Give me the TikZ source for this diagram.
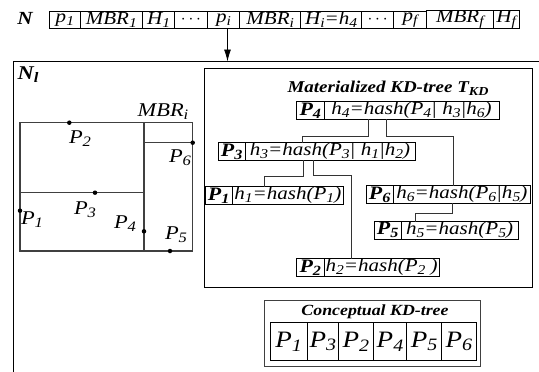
\documentclass[tikz,border=0pt]{standalone}
\usepackage{fontspec}
\setmainfont{Liberation Serif}[FakeStretch=1.15]
\usetikzlibrary{arrows.meta}
\newcommand{\sbx}[1]{\raisebox{-0.16em}{\scalebox{0.74}{#1}}}
\begin{document}
\begin{tikzpicture}[x=1pt,y=-1pt,
  every node/.style={inner sep=0pt, outer sep=0pt},
  rowcell/.style={draw, line width=0.8pt, minimum height=16.5pt, anchor=west,
    font=\fontsize{18.3}{18.3}\selectfont\itshape},
  tcell/.style={draw, line width=0.8pt, minimum height=17.6pt, anchor=west,
    font=\fontsize{18.3}{18.3}\selectfont\itshape},
  tkey/.style={tcell, font=\fontsize{19}{19}\selectfont\bfseries\itshape},
  ccell/.style={draw, line width=0.8pt, minimum height=38.4pt, anchor=west,
    font=\fontsize{23.5}{23.5}\selectfont\itshape},
  lbl/.style={font=\fontsize{19.5}{19.5}\selectfont\itshape},
  mbr/.style={line width=1.1pt, draw=black!75},
  dot/.style={circle, fill=black, minimum size=4.5pt},
  conn/.style={line width=0.8pt, draw=black!80},
]
\useasboundingbox (0,0) rectangle (539,372);

% top row
\node[font=\fontsize{18.5}{18.5}\selectfont\bfseries\itshape] (N) at (25,18.5) {N};
\node[rowcell, minimum width=30.2pt] (r1) at (49.8,19.75) {p\sbx{1}};
\node[rowcell, minimum width=62.7pt] (r2) at (r1.east) {MBR\sbx{1}};
\node[rowcell, minimum width=31.9pt] (r3) at (r2.east) {H\sbx{1}};
\node[rowcell, minimum width=32.7pt] (r4) at (r3.east) {$\cdots$};
\node[rowcell, minimum width=32.3pt] (r5) at (r4.east) {p\sbx{i}};
\node[rowcell, minimum width=61.2pt] (r6) at (r5.east) {MBR\sbx{i}};
\node[rowcell, minimum width=60.8pt] (r7) at (r6.east) {H\sbx{i}=h\sbx{4}};
\node[rowcell, minimum width=32pt] (r8) at (r7.east) {$\cdots$};
\node[rowcell, minimum width=32.7pt] (r9) at (r8.east) {p\sbx{f}};
\node[rowcell, minimum width=67pt] (r10) at (r9.east) {MBR\sbx{f}};
\node[rowcell, minimum width=25.7pt] (r11) at (r10.east) {H\sbx{f}};

% N_l region
\coordinate (nlbl) at (13.3,372);
\coordinate (nltl) at (13.3,61.5);
\coordinate (nltr) at (539,61.5);
\coordinate (nlarrow) at (227.5,61.5);
\draw[line width=0.9pt] (nlbl) -- (nltl) -- (nltr);
\draw[line width=0.8pt, -{Latex[length=12pt,width=7pt]}] (r5.south -| nlarrow) -- (nlarrow);
\node[font=\fontsize{19.5}{19.5}\selectfont\bfseries\itshape] (Nl) at (28,75) {N\sbx{l}};

% MBR drawing
\draw[mbr] (20,122.7) rectangle (192.7,251);
\draw[mbr] (144,122.7) -- (144,251);
\draw[mbr] (20,192.7) -- (144,192.7);
\draw[mbr] (144,142.7) -- (192.7,142.7);
\node[dot] (d2) at (69.3,122.7) {};
\node[dot] (d3) at (95,192.7) {};
\node[dot] (d1) at (20,210.7) {};
\node[dot] (d6) at (192.7,142.7) {};
\node[dot] (d4) at (144,231.3) {};
\node[dot] (d5) at (170,251) {};
\node[lbl] (l2) at (80,138.3) {P\sbx{2}};
\node[lbl] (l6) at (180,158) {P\sbx{6}};
\node[lbl] (l3) at (85,210) {P\sbx{3}};
\node[lbl] (l1) at (32,220) {P\sbx{1}};
\node[lbl] (l4) at (125,223.3) {P\sbx{4}};
\node[lbl] (l5) at (176,235) {P\sbx{5}};
\node[lbl] (lm) at (163,111.7) {MBR\sbx{i}};

% Materialized KD-tree
\node[draw, line width=0.9pt, minimum width=328.5pt, minimum height=219pt] (mat) at (368.25,177.5) {};
\node[font=\fontsize{16.5}{16.5}\selectfont\bfseries\itshape] (mtitle) at (388,88) {Materialized KD-tree T\sbx{KD}};

\node[tkey, minimum width=27.3pt] (p4a) at (296.7,110.5) {P\sbx{4}};
\node[tcell, minimum width=175pt] (p4b) at (p4a.east) {h\sbx{4}=hash(P\sbx{4}| h\sbx{3}|h\sbx{6})};
\node[tkey, minimum width=26.7pt] (p3a) at (218.3,151.5) {P\sbx{3}};
\node[tcell, minimum width=170pt] (p3b) at (p3a.east) {h\sbx{3}=hash(P\sbx{3}| h\sbx{1}|h\sbx{2})};
\node[tkey, minimum width=27.3pt] (p1a) at (205,195.3) {P\sbx{1}};
\node[tcell, minimum width=111pt] (p1b) at (p1a.east) {h\sbx{1}=hash(P\sbx{1})};
\node[tkey, minimum width=27.3pt] (p6a) at (366,194.4) {P\sbx{6}};
\node[tcell, minimum width=137pt] (p6b) at (p6a.east) {h\sbx{6}=hash(P\sbx{6}|h\sbx{5})};
\node[tkey, minimum width=26.7pt] (p5a) at (374.3,230.3) {P\sbx{5}};
\node[tcell, minimum width=117.3pt] (p5b) at (p5a.east) {h\sbx{5}=hash(P\sbx{5})};
\node[tkey, minimum width=27.3pt] (p2a) at (296.7,267.5) {P\sbx{2}};
\node[tcell, minimum width=115.3pt] (p2b) at (p2a.east) {h\sbx{2}=hash(P\sbx{2} )};

\draw[conn] (p4b.south -| 368,0) |- (302,136.5) -- (p3b.north -| 302,0);
\draw[conn] (p4b.south -| 386,0) |- (453,136) -- (p6b.north -| 453,0);
\draw[conn] (p3b.south -| 303.3,0) |- (264.3,176.7) -- (p1b.north -| 264.3,0);
\draw[conn] (p3b.south -| 313.3,0) |- (351.7,175) -- (p2b.north -| 351.7,0);
\draw[conn] (p6b.south -| 452.7,0) |- (415.7,213.3) -- (p5b.north -| 415.7,0);

% Conceptual KD-tree
\node[draw, line width=0.9pt, draw=black!75, minimum width=216pt, minimum height=66.7pt] (conc) at (372,333.35) {};
\node[font=\fontsize{15.5}{15.5}\selectfont\bfseries\itshape] (ctitle) at (375,311.7) {Conceptual KD-tree};
\node[ccell, minimum width=37.3pt] (c1) at (270,341.5) {P\sbx{1}};
\node[ccell, minimum width=31pt] (c2) at (c1.east) {P\sbx{3}};
\node[ccell, minimum width=35pt] (c3) at (c2.east) {P\sbx{2}};
\node[ccell, minimum width=33.4pt] (c4) at (c3.east) {P\sbx{4}};
\node[ccell, minimum width=35pt] (c5) at (c4.east) {P\sbx{5}};
\node[ccell, minimum width=34.3pt] (c6) at (c5.east) {P\sbx{6}};
\end{tikzpicture}
\end{document}
